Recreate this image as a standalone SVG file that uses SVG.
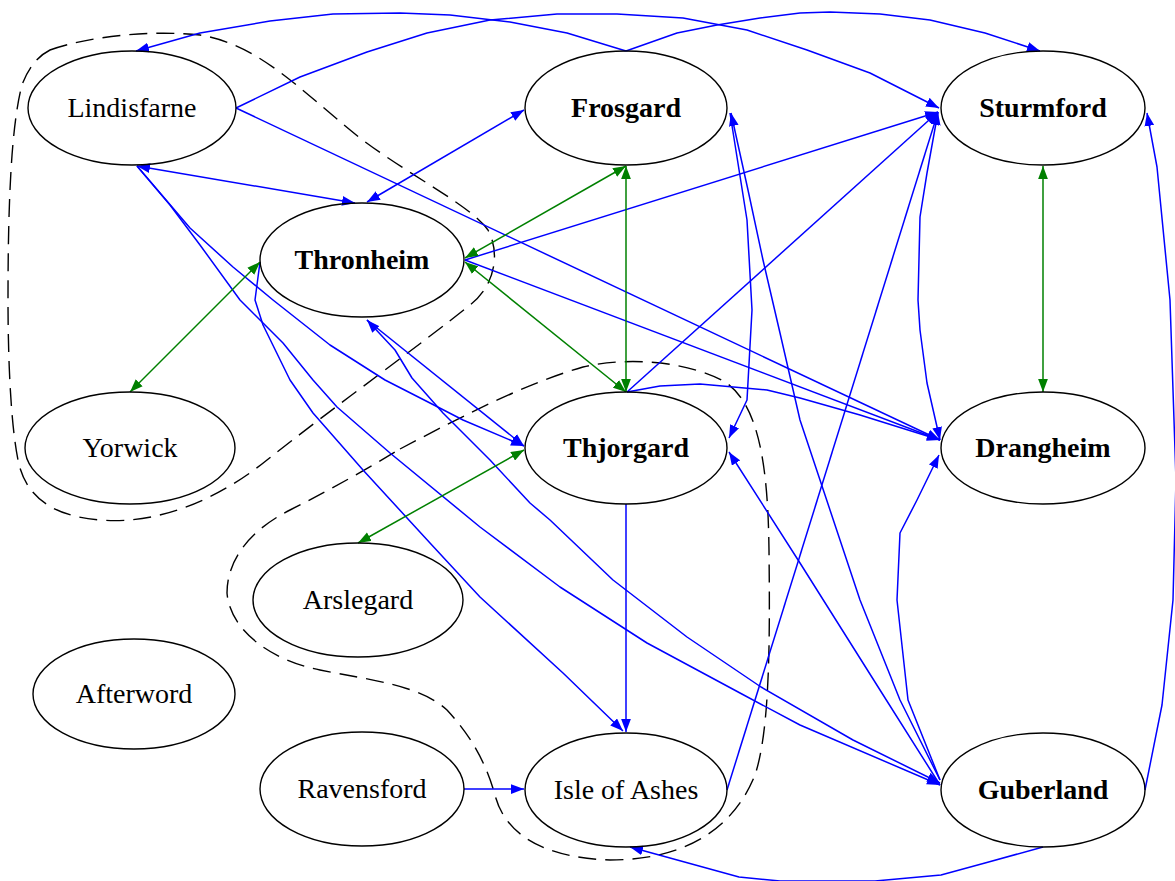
<svg xmlns="http://www.w3.org/2000/svg" width="1175" height="881" viewBox="0 0 1175 881">
<defs>
<marker id="ab" viewBox="0 0 12 9" refX="12" refY="4.5" markerWidth="13" markerHeight="10" markerUnits="userSpaceOnUse" orient="auto-start-reverse"><path d="M0,0 L12,4.5 L0,9 z" fill="#0000ff"/></marker>
<marker id="ag" viewBox="0 0 12 9" refX="12" refY="4.5" markerWidth="13" markerHeight="10" markerUnits="userSpaceOnUse" orient="auto-start-reverse"><path d="M0,0 L12,4.5 L0,9 z" fill="#008000"/></marker>
<style>
.n ellipse{fill:none;stroke:#000;stroke-width:1.4}
.n text{font-family:"Liberation Serif","Times New Roman",serif;font-size:28px;text-anchor:middle;fill:#000}
.n text.b{font-weight:bold}
.e path{fill:none;stroke-width:1.5;stroke-linejoin:round}
.e .bl{stroke:#0000ff}
.e .gr{stroke:#008000}
.e .bl.end{marker-end:url(#ab)}
.e .bl.both{marker-start:url(#ab);marker-end:url(#ab)}
.e .gr{marker-start:url(#ag);marker-end:url(#ag)}
.cl path{fill:none;stroke:#000;stroke-width:1.4;stroke-dasharray:18,9}
</style>
</defs>
<rect width="1175" height="881" fill="#fff"/>
<g class="cl">
<path d="M50,50 C90,36 150,30 200,35 C260,45 300,90 360,138 C410,176 470,205 488,230 C500,252 496,285 470,305 C420,345 330,410 267,460 C220,498 160,525 100,520 C50,516 25,495 18,460 C10,420 8,350 8,300 C8,220 10,130 22,85 C28,68 38,56 50,50 Z"/>
<path d="M400,449 C450,423 520,385 583,367 C630,356 690,362 725,382 C760,405 768,470 769,550 C770,640 770,730 755,775 C735,825 690,860 610,860 C545,858 505,835 495,795 C485,760 470,735 447,710 C420,685 370,680 320,670 C270,660 230,630 227,593 C227,560 250,530 290,510 C330,490 365,470 400,449 Z"/>
</g>
<g class="e">
<path class="bl end" d="M626,51 L567,33 L510,22 L450,15 L400,13 L333,14 L270,21 L200,33 L136,51"/>
<path class="bl end" d="M626,51 L677,33 L717,25 L760,18 L800,13 L830,12 L880,14 L930,20 L985,33 L1040,51"/>
<path class="bl end" d="M236,108 L300,77 L367,52 L427,33 L490,20 L557,14 L617,14 L683,18 L747,30 L807,50 L870,73 L939,108"/>
<path class="bl end" d="M236,108 L940,440"/>
<path class="bl both" d="M137,166 L355,203"/>
<path class="bl end" d="M137,166 L190,228 L233,267 L273,300 L330,345 L385,380 L430,403 L463,420 L524,446"/>
<path class="bl end" d="M137,166 L170,205 L200,245 L240,300 L283,343 L313,380 L337,407 L390,453 L480,527 L560,587 L647,643 L740,693 L800,725 L940,785"/>
<path class="bl both" d="M367,202 L524,110"/>
<path class="bl end" d="M465,260 L938,112"/>
<path class="bl end" d="M465,260 L940,440"/>
<path class="bl end" d="M260,262 L255,300 L263,325 L290,380 L313,413 L363,470 L430,543 L480,597 L563,673 L623,731"/>
<path class="bl end" d="M367,320 L524,446"/>
<path class="bl both" d="M367,320 L395,350 L412,378 L443,413 L490,460 L530,503 L550,520 L613,580 L687,637 L761,687 L853,740 L940,783"/>
<path class="bl end" d="M730,113 L747,220 L752,310 L747,400 L729,438"/>
<path class="bl end" d="M940,780 L900,700 L860,600 L830,510 L800,420 L780,333 L763,260 L748,190 L731,113"/>
<path class="bl end" d="M940,785 L880,690 L800,563 L729,452"/>
<path class="bl end" d="M627,392 L938,112"/>
<path class="bl end" d="M627,392 L660,386 L700,384 L767,390 L800,398 L860,415 L940,440"/>
<path class="bl end" d="M626,504 L626,732"/>
<path class="bl end" d="M727,790 L938,112"/>
<path class="bl end" d="M464,789 L524,789"/>
<path class="bl end" d="M1043,847 L985,863 L941,875 L875,881 L780,881 L739,877 L630,847"/>
<path class="bl end" d="M1145,790 L1162,705 L1173,600 L1176,480 L1170,300 L1157,167 L1147,113"/>
<path class="bl both" d="M938,112 L927,173 L920,217 L918,300 L920,330 L927,383 L940,440"/>
<path class="bl end" d="M940,780 L908,700 L897,600 L900,533 L917,500 L939,455"/>
<path class="gr" d="M626,166 L626,392"/>
<path class="gr" d="M626,166 L465,258"/>
<path class="gr" d="M465,262 L626,392"/>
<path class="gr" d="M260,262 L130,392"/>
<path class="gr" d="M524,450 L358,543"/>
<path class="gr" d="M1043,166 L1043,392"/>
</g>
<g id="lindisfarne" class="n"><ellipse cx="132" cy="108" rx="104" ry="57"/><text x="132" y="117">Lindisfarne</text></g>
<g id="frosgard" class="n"><ellipse cx="626" cy="108" rx="101" ry="57"/><text class="b" x="626" y="117">Frosgard</text></g>
<g id="sturmford" class="n"><ellipse cx="1043" cy="108" rx="102" ry="57"/><text class="b" x="1043" y="117">Sturmford</text></g>
<g id="thronheim" class="n"><ellipse cx="362" cy="260" rx="102" ry="57"/><text class="b" x="362" y="269">Thronheim</text></g>
<g id="yorwick" class="n"><ellipse cx="130" cy="448" rx="105" ry="56"/><text x="130" y="457">Yorwick</text></g>
<g id="thjorgard" class="n"><ellipse cx="626" cy="448" rx="101" ry="56"/><text class="b" x="626" y="457">Thjorgard</text></g>
<g id="drangheim" class="n"><ellipse cx="1043" cy="448" rx="102" ry="56"/><text class="b" x="1043" y="457">Drangheim</text></g>
<g id="arslegard" class="n"><ellipse cx="358" cy="600" rx="105" ry="57"/><text x="358" y="609">Arslegard</text></g>
<g id="afterword" class="n"><ellipse cx="134" cy="694" rx="101" ry="55"/><text x="134" y="703">Afterword</text></g>
<g id="ravensford" class="n"><ellipse cx="362" cy="789" rx="102" ry="57"/><text x="362" y="798">Ravensford</text></g>
<g id="isle-of-ashes" class="n"><ellipse cx="626" cy="790" rx="101" ry="57"/><text x="626" y="799">Isle of Ashes</text></g>
<g id="guberland" class="n"><ellipse cx="1043" cy="790" rx="102" ry="57"/><text class="b" x="1043" y="799">Guberland</text></g>
</svg>
